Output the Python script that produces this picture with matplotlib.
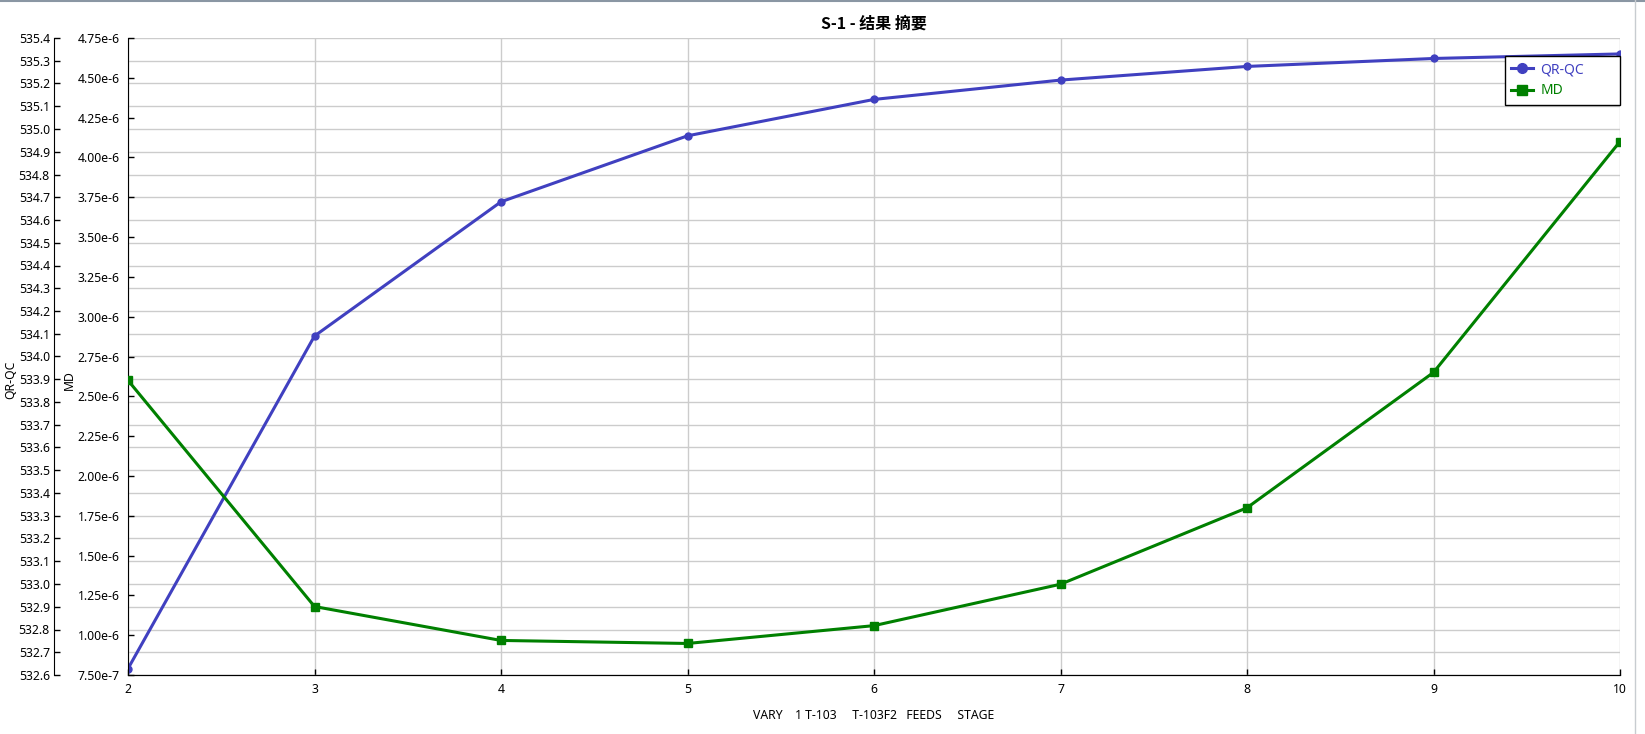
import matplotlib.pyplot as plt
from matplotlib.ticker import MultipleLocator, FuncFormatter
from matplotlib.lines import Line2D

plt.rcParams['font.family'] = ['Noto Sans', 'Noto Sans CJK SC', 'DejaVu Sans']

# data
stages = [2, 3, 4, 5, 6, 7, 8, 9, 10]
qr_qc = [532.628, 534.09, 534.68, 534.97, 535.13, 535.215, 535.275, 535.31, 535.33]
md = [2.60e-6, 1.18e-6, 9.67e-7, 9.48e-7, 1.06e-6, 1.32e-6, 1.80e-6, 2.65e-6, 4.10e-6]

blue = "#4040c0"
green = "#008000"
fs = 8.8

fig = plt.figure(figsize=(16.45, 7.34), dpi=100)
ax = fig.add_axes([128 / 1645, 1 - 675 / 734, 1492 / 1645, 637 / 734])
ax2 = ax.twinx()

# QR-QC on the main axes, its spine pushed out to the left
ax.plot(stages, qr_qc, color=blue, lw=2.2, marker="o", ms=5, label="QR-QC", zorder=3)
ax.set_ylim(532.6, 535.4)
ax.yaxis.set_major_locator(MultipleLocator(0.1))
ax.yaxis.set_major_formatter(FuncFormatter(lambda v, p: "%.1f" % v))
ax.spines['left'].set_position(('axes', -74 / 1492))
ax.spines['top'].set_visible(False)
ax.spines['right'].set_visible(False)
ax.set_xlim(2, 10)
ax.xaxis.set_major_locator(MultipleLocator(1))
ax.grid(True, color="#cccccc", lw=1)
ax.set_axisbelow(True)
ax.set_ylabel("QR-QC", fontsize=fs)
ax.yaxis.set_label_coords(-111 / 1492, 0.463)
ax.set_xlabel("VARY    1 T-103     T-103F2   FEEDS     STAGE", fontsize=fs, labelpad=9)
ax.tick_params(axis="y", labelsize=fs, length=4, width=1, pad=3, direction="in")
ax.tick_params(axis="x", labelsize=fs, length=4, width=1, pad=6, direction="in")


# MD on the twin axes, ticks on the left
def sci_fmt(v, p):
    s = "%.2e" % v
    m, e = s.split("e")
    return "%se%d" % (m, int(e))


ax2.plot(stages, md, color=green, lw=2.2, marker="s", ms=5.5, label="MD", zorder=3)
ax2.set_ylim(7.5e-7, 4.75e-6)
ax2.yaxis.set_major_locator(MultipleLocator(0.25e-6))
ax2.yaxis.set_major_formatter(FuncFormatter(sci_fmt))
ax2.yaxis.get_offset_text().set_visible(False)
ax2.yaxis.tick_left()
ax2.yaxis.set_label_position('left')
ax2.spines['left'].set_visible(True)
ax2.spines['left'].set_position(('axes', 0))
ax2.spines['right'].set_visible(False)
ax2.spines['top'].set_visible(False)
ax2.set_ylabel("MD", fontsize=fs)
ax2.yaxis.set_label_coords(-52 / 1492, 0.463)
ax2.tick_params(labelsize=fs, length=4, width=1, pad=6, direction="in")

ax.set_title("S-1 - 结果 摘要", fontsize=11.5, fontweight="bold", pad=7,
             family=['Noto Sans CJK SC', 'DejaVu Sans'])

h1, l1 = ax.get_legend_handles_labels()
h2, l2 = ax2.get_legend_handles_labels()
leg = ax2.legend(h1 + h2, l1 + l2, loc="upper left", mode="expand",
                 bbox_to_anchor=(1505 / 1645, 1 - 105 / 734, 115 / 1645, 49 / 734),
                 bbox_transform=fig.transFigure, fontsize=10, fancybox=False, edgecolor="black",
                 framealpha=1, borderaxespad=0, handlelength=1.6, markerscale=1.4,
                 borderpad=0.45, labelspacing=0.45, handletextpad=0.5)
leg.get_frame().set_linewidth(1)
for t, c in zip(leg.get_texts(), [blue, green]):
    t.set_color(c)

# window border
fig.add_artist(Line2D([0, 1], [0.999, 0.999], color="#8a96a3", lw=1.5, transform=fig.transFigure))
fig.add_artist(Line2D([1635 / 1645, 1635 / 1645], [0, 1], color="#c8ccd0", lw=1, transform=fig.transFigure))

fig.savefig("out.png", dpi=100)
